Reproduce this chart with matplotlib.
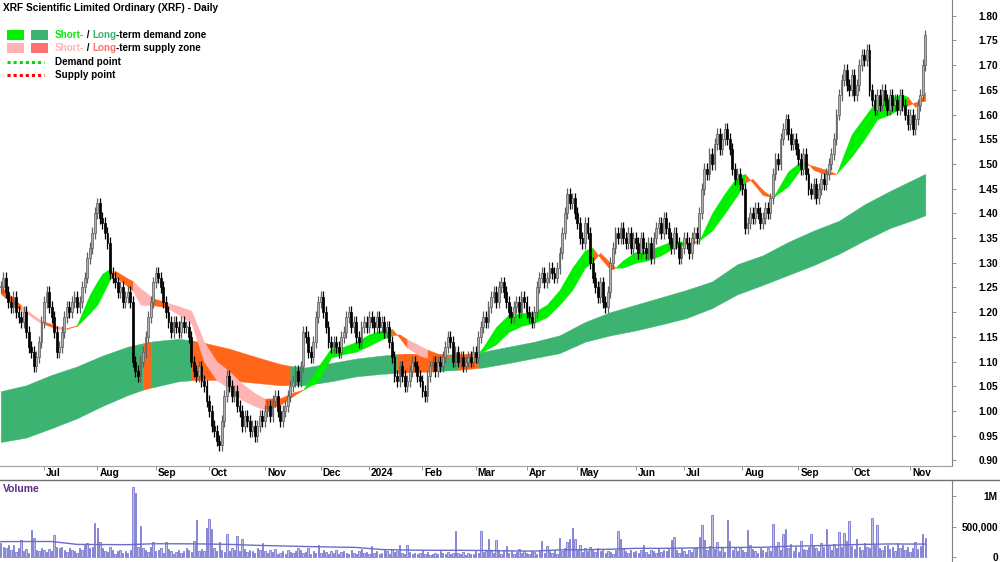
import numpy as np
import pandas as pd
import matplotlib
matplotlib.use('Agg')
import matplotlib.pyplot as plt

plt.rcParams['font.family'] = ['Liberation Sans', 'DejaVu Sans']
plt.rcParams['font.weight'] = 'bold'

# ---------------- data ----------------
close = [
    1.25, 1.27, 1.24, 1.22, 1.21, 1.23, 1.20, 1.19, 1.18, 1.20,
    1.16, 1.13, 1.12, 1.09, 1.11, 1.14, 1.18, 1.22, 1.24, 1.21,
    1.19, 1.16, 1.12, 1.13, 1.16, 1.19, 1.21, 1.20, 1.22, 1.23,
    1.21, 1.22, 1.25, 1.27, 1.31, 1.33, 1.36, 1.40, 1.42, 1.39,
    1.38, 1.36, 1.34, 1.28, 1.27, 1.26, 1.24, 1.25, 1.22, 1.23,
    1.24, 1.22, 1.10, 1.08, 1.07, 1.10, 1.12, 1.15, 1.19, 1.22,
    1.26, 1.28, 1.27, 1.25, 1.22, 1.20, 1.18, 1.16, 1.18, 1.17,
    1.16, 1.18, 1.17, 1.17, 1.15, 1.10, 1.08, 1.07, 1.09, 1.06,
    1.05, 1.02, 1.00, 0.97, 0.96, 0.94, 0.93, 0.98, 1.03, 1.07,
    1.05, 1.03, 1.04, 1.01, 1.00, 0.97, 0.99, 0.98, 0.96, 0.97,
    0.95, 0.97, 0.99, 0.98, 1.00, 1.01, 0.99, 1.02, 1.03, 1.00,
    0.98, 1.00, 1.01, 1.03, 1.05, 1.06, 1.08, 1.06, 1.09, 1.16,
    1.15, 1.12, 1.11, 1.14, 1.19, 1.22, 1.23, 1.20, 1.17, 1.14,
    1.13, 1.14, 1.13, 1.12, 1.15, 1.16, 1.19, 1.20, 1.17, 1.18,
    1.15, 1.14, 1.17, 1.18, 1.17, 1.19, 1.18, 1.17, 1.19, 1.17,
    1.18, 1.16, 1.17, 1.14, 1.11, 1.07, 1.06, 1.09, 1.07, 1.05,
    1.06, 1.08, 1.10, 1.09, 1.07, 1.06, 1.04, 1.03, 1.07, 1.09,
    1.10, 1.08, 1.10, 1.09, 1.11, 1.13, 1.15, 1.14, 1.10, 1.12,
    1.10, 1.11, 1.09, 1.10, 1.11, 1.10, 1.12, 1.11, 1.15, 1.17,
    1.19, 1.18, 1.21, 1.23, 1.24, 1.22, 1.25, 1.26, 1.24, 1.22,
    1.20, 1.19, 1.21, 1.22, 1.20, 1.23, 1.22, 1.20, 1.19, 1.18,
    1.20, 1.25, 1.27, 1.28, 1.26, 1.27, 1.29, 1.28, 1.27, 1.29,
    1.32, 1.36, 1.40, 1.44, 1.42, 1.43, 1.40, 1.38, 1.35, 1.34,
    1.38, 1.36, 1.30, 1.27, 1.25, 1.23, 1.26, 1.22, 1.21, 1.24,
    1.30, 1.33, 1.36, 1.35, 1.37, 1.35, 1.34, 1.36, 1.33, 1.35,
    1.34, 1.32, 1.35, 1.33, 1.32, 1.34, 1.31, 1.35, 1.37, 1.38,
    1.36, 1.39, 1.37, 1.35, 1.33, 1.36, 1.34, 1.31, 1.33, 1.35,
    1.34, 1.32, 1.35, 1.36, 1.35, 1.40, 1.45, 1.49, 1.48, 1.52,
    1.50, 1.54, 1.56, 1.53, 1.55, 1.57, 1.55, 1.53, 1.49, 1.47,
    1.48, 1.46, 1.45, 1.37, 1.38, 1.40, 1.39, 1.41, 1.40, 1.38,
    1.39, 1.41, 1.40, 1.43, 1.48, 1.51, 1.50, 1.55, 1.57, 1.59,
    1.56, 1.54, 1.55, 1.53, 1.51, 1.49, 1.52, 1.48, 1.45, 1.44,
    1.46, 1.43, 1.45, 1.47, 1.46, 1.48, 1.50, 1.52, 1.55, 1.60,
    1.64, 1.67, 1.69, 1.66, 1.65, 1.68, 1.64, 1.66, 1.70, 1.72,
    1.71, 1.73, 1.65, 1.63, 1.61, 1.64, 1.62, 1.65, 1.63, 1.61,
    1.64, 1.62, 1.63, 1.61, 1.64, 1.62, 1.60, 1.58, 1.60, 1.57,
    1.59, 1.62, 1.64, 1.70, 1.76,
]

volume_k = [
    230, 180, 150, 210, 120, 200, 90, 150, 290, 110,
    140, 80, 450, 320, 130, 100, 160, 120, 90, 140,
    110, 370, 180, 150, 170, 120, 90, 150, 130, 110,
    80, 160, 120, 200, 230, 150, 180, 570, 490, 260,
    150, 110, 90, 170, 120, 60, 100, 130, 80, 110,
    70, 120, 1160, 1050, 180, 510, 150, 120, 90, 170,
    250, 110, 130, 150, 80, 260, 140, 100, 60, 90,
    120, 70, 100, 150, 120, 90, 270, 610, 110, 140,
    100, 480, 630, 470, 150, 110, 250, 120, 90, 390,
    100, 160, 130, 360, 110, 310, 140, 90, 120, 110,
    80, 150, 130, 240, 100, 70, 120, 90, 140, 60,
    80, 110, 50, 130, 90, 70, 100, 160, 120, 80,
    90, 150, 60, 110, 80, 210, 70, 120, 90, 60,
    100, 80, 130, 60, 90, 110, 70, 60, 120, 80,
    60, 100, 140, 70, 90, 50, 190, 80, 110, 60,
    70, 120, 100, 60, 140, 90, 110, 210, 80, 60,
    200, 90, 60, 80, 50, 70, 120, 60, 90, 40,
    60, 80, 50, 100, 70, 60, 90, 50, 80, 440,
    70, 60, 90, 40, 80, 60, 50, 100, 70, 430,
    90, 110, 300, 100, 70, 290, 120, 60, 130, 190,
    80, 100, 60, 90, 140, 70, 110, 80, 60, 100,
    90, 50, 120, 270, 80, 190, 110, 70, 130, 60,
    320, 100, 160, 250, 300, 480, 300, 120, 200, 90,
    150, 110, 180, 120, 90, 160, 100, 130, 80, 110,
    90, 60, 120, 440, 300, 150, 100, 70, 120, 90,
    110, 80, 130, 200, 90, 60, 120, 100, 70, 150,
    90, 130, 100, 160, 290, 340, 120, 80, 150, 110,
    60, 130, 90, 150, 180, 340, 540, 280, 120, 190,
    700, 140, 250, 110, 160, 90, 620, 270, 130, 150,
    100, 170, 120, 90, 450, 200, 140, 110, 80, 160,
    120, 90, 150, 100, 550, 180, 260, 130, 390, 470,
    150, 220, 110, 170, 90, 270, 140, 120, 180, 380,
    200, 150, 110, 240, 170, 460, 190, 130, 220, 160,
    410, 180, 400, 270, 600, 190, 140, 300, 170, 120,
    230, 180, 150, 650, 210, 540, 160, 120, 190, 200,
    140, 170, 110, 230, 150, 200, 120, 180, 90, 160,
    250, 140, 190, 390, 320,
]

# volume moving average, read at sampled sessions (thousands)
vma_idx = [0, 10, 20, 30, 40, 50, 60, 70, 80, 90, 100, 110, 120, 130, 140, 150,
           160, 170, 180, 190, 200, 210, 220, 230, 240, 250, 260, 270, 280, 290,
           300, 310, 320, 330, 340, 350, 360, 364]
vma_k = [260, 262, 262, 215, 212, 210, 225, 225, 222, 215, 200, 190, 180, 172, 165, 130,
         122, 118, 118, 115, 108, 105, 125, 128, 135, 150, 150, 155, 162, 165,
         168, 185, 192, 205, 215, 222, 220, 220]

# long-term zone edges at sampled sessions
lt_idx = [0, 10, 20, 30, 40, 50, 56, 59, 60, 70, 75, 80, 90, 100, 110, 114, 120, 130,
          140, 150, 156, 160, 170, 172, 180, 188, 190, 200, 210, 220, 230, 240, 250,
          260, 270, 280, 290, 300, 310, 320, 330, 340, 350, 360, 364]
lt_top = [1.040, 1.052, 1.073, 1.090, 1.112, 1.130, 1.137, 1.140, 1.141, 1.146, 1.143,
          1.138, 1.126, 1.110, 1.095, 1.091, 1.088, 1.097, 1.106, 1.112, 1.115, 1.116,
          1.115, 1.115, 1.114, 1.118, 1.120, 1.130, 1.140, 1.153, 1.180, 1.200, 1.215,
          1.230, 1.245, 1.262, 1.297, 1.315, 1.342, 1.365, 1.385, 1.418, 1.445, 1.470, 1.480]
lt_bot = [0.937, 0.946, 0.965, 0.985, 1.010, 1.032, 1.043, 1.047, 1.048, 1.060, 1.062,
          1.063, 1.062, 1.057, 1.052, 1.052, 1.052, 1.060, 1.070, 1.075, 1.077, 1.078,
          1.080, 1.081, 1.083, 1.087, 1.088, 1.097, 1.107, 1.117, 1.140, 1.153, 1.163,
          1.175, 1.188, 1.208, 1.236, 1.255, 1.275, 1.295, 1.318, 1.345, 1.370, 1.388, 1.396]
lt_segments = [(0, 56, 'demand'), (56, 59, 'supply'), (59, 75, 'demand'), (75, 114, 'supply'),
               (114, 156, 'demand'), (156, 172, 'supply'), (172, 180, 'demand'),
               (180, 188, 'supply'), (188, 364, 'demand')]

# short-term zone edges at sampled sessions
st_idx = [0, 5, 8, 10, 15, 17, 20, 22, 25, 26, 30, 35, 38, 40, 43, 45, 50, 52, 55, 60, 65,
          70, 75, 80, 85, 90, 95, 100, 104, 110, 115, 119, 125, 130, 135, 140, 145, 150,
          154, 157, 160, 165, 168, 172, 176, 180, 184, 188, 190, 195, 200, 205, 210, 215,
          220, 225, 230, 233, 236, 240, 242, 245, 250, 255, 260, 265, 269, 272, 275, 280,
          285, 290, 293, 296, 300, 304, 310, 315, 317, 320, 325, 329, 335, 340, 345, 350,
          355, 357, 360, 364]
st_fast = [1.237, 1.215, 1.204, 1.198, 1.180, 1.176, 1.170, 1.167, 1.165, 1.166, 1.174,
           1.235, 1.262, 1.278, 1.288, 1.272, 1.252, 1.243, 1.215, 1.214, 1.210, 1.195,
           1.178, 1.100, 1.062, 1.045, 1.022, 1.010, 1.002, 1.012, 1.030, 1.043, 1.090,
           1.127, 1.130, 1.140, 1.155, 1.163, 1.166, 1.148, 1.128, 1.112, 1.107, 1.104,
           1.108, 1.112, 1.112, 1.117, 1.130, 1.170, 1.195, 1.198, 1.200, 1.215, 1.245,
           1.290, 1.325, 1.330, 1.310, 1.286, 1.290, 1.305, 1.322, 1.325, 1.335, 1.345,
           1.342, 1.338, 1.345, 1.400, 1.440, 1.475, 1.480, 1.462, 1.437, 1.432, 1.485,
           1.505, 1.505, 1.488, 1.478, 1.480, 1.560, 1.595, 1.630, 1.635, 1.640, 1.636,
           1.615, 1.645]
st_slow = [1.252, 1.228, 1.214, 1.205, 1.186, 1.181, 1.176, 1.172, 1.168, 1.168, 1.172,
           1.198, 1.215, 1.235, 1.266, 1.284, 1.268, 1.263, 1.248, 1.228, 1.220, 1.212,
           1.203, 1.140, 1.100, 1.080, 1.055, 1.036, 1.025, 1.026, 1.037, 1.043, 1.060,
           1.108, 1.115, 1.120, 1.132, 1.145, 1.153, 1.155, 1.145, 1.132, 1.124, 1.116,
           1.113, 1.115, 1.114, 1.117, 1.121, 1.135, 1.160, 1.172, 1.178, 1.190, 1.215,
           1.245, 1.290, 1.302, 1.320, 1.300, 1.290, 1.290, 1.300, 1.305, 1.315, 1.330,
           1.336, 1.342, 1.345, 1.365, 1.400, 1.437, 1.462, 1.470, 1.447, 1.432, 1.455,
           1.490, 1.499, 1.496, 1.488, 1.480, 1.515, 1.550, 1.590, 1.600, 1.615, 1.618,
           1.625, 1.628]
st_segments = [(0, 8, 'o'), (8, 17, 'p'), (17, 22, 'o'), (22, 26, 'p'), (26, 30, 'o'),
               (30, 43, 'g'), (43, 52, 'o'), (52, 60, 'p'), (60, 65, 'o'), (65, 104, 'p'),
               (104, 119, 'o'), (119, 154, 'g'), (154, 160, 'o'), (160, 168, 'p'),
               (168, 188, 'o'), (188, 233, 'g'), (233, 242, 'o'), (242, 269, 'g'),
               (269, 275, 'o'), (275, 293, 'g'), (293, 304, 'o'), (304, 317, 'g'),
               (317, 329, 'o'), (329, 357, 'g'), (357, 364, 'o')]

price_ticks = [0.90, 0.95, 1.00, 1.05, 1.10, 1.15, 1.20, 1.25, 1.30, 1.35, 1.40, 1.45,
               1.50, 1.55, 1.60, 1.65, 1.70, 1.75, 1.80]
vol_ticks = [0, 500000, 1000000]
vol_tick_labels = ['0', '500,000', '1M']

asx_holidays = ['2023-06-12', '2023-12-25', '2023-12-26', '2024-01-01', '2024-01-26',
                '2024-03-29', '2024-04-01', '2024-04-25', '2024-06-10']

# ---------------- colours ----------------
C_SHORT_D = '#00f000'
C_LONG_D = '#3cb371'
C_SHORT_S = '#ffb3b3'
C_LONG_S_LEG = '#ff7070'
C_ORANGE = '#ff661a'
C_VOL = '#8686d4'
C_VMA = '#6c6cc8'

# ---------------- figure ----------------
W, H = 1000, 562
fig = plt.figure(figsize=(W / 100, H / 100), dpi=100)
ax = fig.add_axes([0, (H - 466) / H, 952 / W, 466 / H])
axv = fig.add_axes([0, 0, 952 / W, (H - 480) / H])

n = len(close)
idx = np.arange(n)
c = np.array(close)
o = np.concatenate([[c[0]], c[:-1]])
wick = 0.012
hi = np.maximum(o, c) + wick
lo = np.minimum(o, c) - wick

# long-term zone
lti = np.array(lt_idx); ltt = np.array(lt_top); ltb = np.array(lt_bot)
for a, b, kind in lt_segments:
    m = (lti >= a) & (lti <= b)
    col = C_LONG_D if kind == 'demand' else C_ORANGE
    ax.fill_between(lti[m], ltt[m], ltb[m], color=col, lw=0.3, ec=col, zorder=1)

# short-term zone
sti = np.array(st_idx); stf = np.array(st_fast); sts = np.array(st_slow)
st_col = {'g': C_SHORT_D, 'o': C_ORANGE, 'p': C_SHORT_S}
for a, b, kind in st_segments:
    m = (sti >= a) & (sti <= b)
    ax.fill_between(sti[m], stf[m], sts[m], color=st_col[kind], lw=0.3, ec=st_col[kind], zorder=2)

# candles
up = c >= o
ax.vlines(idx[up], lo[up], hi[up], color='#606060', lw=0.9, zorder=3)
ax.vlines(idx[~up], lo[~up], hi[~up], color='black', lw=0.9, zorder=3)
body_lo = np.minimum(o, c)
body_h = np.maximum(np.abs(c - o), 0.002)
ax.bar(idx[up], body_h[up], bottom=body_lo[up], width=0.72, color='#b0b0b0',
       edgecolor='#5a5a5a', lw=0.5, zorder=4)
ax.bar(idx[~up], body_h[~up], bottom=body_lo[~up], width=0.72, color='black',
       edgecolor='black', lw=0.5, zorder=4)

xmin, xmax = -0.31, 374.5
ax.set_xlim(xmin, xmax)
ax.set_ylim(0.8885, 1.8318)

# axes styling
for s in ['top', 'left']:
    ax.spines[s].set_visible(False)
ax.spines['right'].set_color('#808080')
ax.spines['bottom'].set_color('#a0a0a0')
ax.yaxis.tick_right()
ax.set_yticks(price_ticks)
ax.set_yticklabels(['%.2f' % v for v in price_ticks])
ax.tick_params(axis='y', direction='out', length=3, width=0.6, color='#808080',
               labelsize=7.3, pad=30)
for lab in ax.get_yticklabels():
    lab.set_horizontalalignment('right')

# month ticks
dates = pd.bdate_range('2023-06-07', '2024-12-31', freq='C', holidays=asx_holidays)[:n]
mpos, mlab = [], []
for i in range(1, n):
    if dates[i].month != dates[i - 1].month:
        mpos.append(i)
        mlab.append(str(dates[i].year) if dates[i].month == 1 else dates[i].strftime('%b'))
ax.set_xticks(mpos)
ax.set_xticklabels([])
ax.tick_params(axis='x', direction='out', length=3, width=0.6, color='#808080')
for p, lab in zip(mpos, mlab):
    ax.annotate(lab, xy=(p, 0), xycoords=('data', 'axes fraction'), xytext=(2, -2),
                textcoords='offset pixels', ha='left', va='top', fontsize=7.3,
                fontweight='bold')

# volume
vol = np.array(volume_k) * 1000.0
axv.bar(idx, vol, width=0.55, color='#c0c0ec', edgecolor=C_VOL, lw=0.7, zorder=2)
axv.plot(vma_idx, np.array(vma_k) * 1000.0, color=C_VMA, lw=1.0, zorder=3)
axv.set_xlim(xmin, xmax)
axv.set_ylim(-73800, 1270000)
for s in ['top', 'left', 'bottom']:
    axv.spines[s].set_visible(False)
axv.spines['right'].set_color('#808080')
axv.set_xticks([])
axv.yaxis.tick_right()
axv.set_yticks(vol_ticks)
axv.set_yticklabels(vol_tick_labels)
axv.tick_params(axis='y', direction='out', length=3, width=0.6, color='#808080',
                labelsize=7.3, pad=30)
for lab in axv.get_yticklabels():
    lab.set_horizontalalignment('right')
axv.text(3 / 952, 1 - 9 / 82, 'Volume', transform=axv.transAxes, ha='left', va='center',
         fontsize=7.5, fontweight='bold', color='#5b2a86')

# separator line between the date strip and volume panel
fig.add_artist(plt.Line2D([0, 1], [(H - 480) / H] * 2, color='#707070', lw=1.0))


def fx(px):
    return px / W


def fy(py):
    return 1 - py / H


# title
fig.text(fx(3), fy(8), 'XRF Scientific Limited Ordinary (XRF) - Daily', ha='left',
         va='center', fontsize=7.3, fontweight='bold', color='black')

# legend
renderer = fig.canvas.get_renderer()


def rich(x_px, y_px, parts, fs=7.1):
    prefix = ''
    for s, col in parts:
        if prefix:
            t = fig.text(0, 0, prefix + '|', fontsize=fs, fontweight='bold')
            t2 = fig.text(0, 0, '|', fontsize=fs, fontweight='bold')
            wpx = t.get_window_extent(renderer).width - t2.get_window_extent(renderer).width
            t.remove(); t2.remove()
        else:
            wpx = 0
        fig.text(fx(x_px + wpx), fy(y_px), s, color=col, fontsize=fs, fontweight='bold',
                 ha='left', va='center')
        prefix += s


fig.add_artist(plt.Rectangle((fx(7), fy(40)), fx(17), 10 / H, color=C_SHORT_D, lw=0))
fig.add_artist(plt.Rectangle((fx(31), fy(40)), fx(17), 10 / H, color=C_LONG_D, lw=0))
fig.add_artist(plt.Rectangle((fx(7), fy(53)), fx(17), 10 / H, color=C_SHORT_S, lw=0))
fig.add_artist(plt.Rectangle((fx(31), fy(53)), fx(17), 10 / H, color=C_LONG_S_LEG, lw=0))
fig.add_artist(plt.Line2D([fx(7), fx(44)], [fy(62), fy(62)], color='#00dd00', lw=2.2,
                          linestyle=(0, (1, 1))))
fig.add_artist(plt.Line2D([fx(7), fx(44)], [fy(74.5), fy(74.5)], color='#ff0000', lw=2.2,
                          linestyle=(0, (1, 1))))
rich(55, 35, [('Short-', C_SHORT_D), (' / ', 'black'), ('Long', C_LONG_D),
              ('-term demand zone', 'black')])
rich(55, 48, [('Short-', C_SHORT_S), (' / ', 'black'), ('Long', C_LONG_S_LEG),
              ('-term supply zone', 'black')])
rich(55, 62, [('Demand point', 'black')])
rich(55, 75, [('Supply point', 'black')])

fig.savefig('out.png', dpi=100)
